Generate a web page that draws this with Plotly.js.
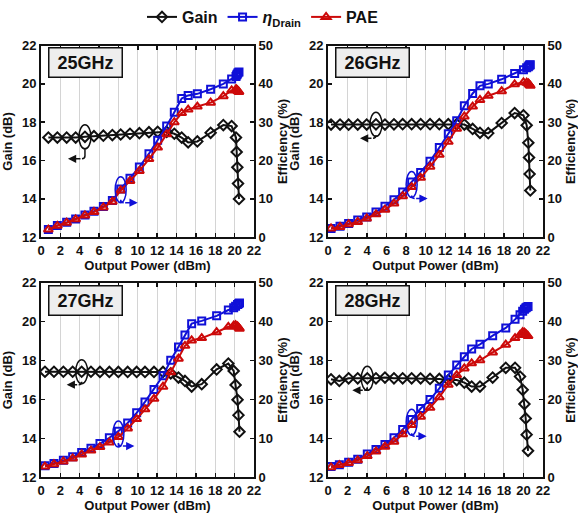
<!DOCTYPE html>
<html>
<head>
<meta charset="utf-8">
<script src="https://cdn.plot.ly/plotly-3.0.1.min.js"></script>
<style>html,body{margin:0;padding:0;background:#fff;}#chart{width:578px;height:518px;}</style>
</head>
<body>
<div id="chart"></div>
<script>
// ---- data ----
const freqLabels = ['25GHz', '26GHz', '27GHz', '28GHz'];

const pout25 = [0.76,1.69,2.65,3.58,4.54,5.47,6.44,7.37,8.23,9.19,10.16,11.15,12.05,12.98,13.77,14.53,15.2,16.15,17.52,18.83,19.69,20.14,20.21,20.28,20.35,20.45];
const gain25 = [17.2,17.2,17.2,17.2,17.24,17.27,17.3,17.33,17.36,17.4,17.43,17.48,17.5,17.5,17.4,17.2,16.95,17.0,17.45,17.85,17.8,17.2,16.45,15.65,14.8,14.0];
const eff25  = [2.0,3.1,3.9,4.8,5.8,6.8,8.0,9.6,12.6,15.4,18.3,21.8,25.3,29.0,32.6,36.2,37.0,37.4,38.6,40.0,41.3,41.9,42.3,42.6,42.9,43.1];
const pae25  = [2.0,3.0,3.8,4.7,5.7,6.6,7.8,9.3,12.2,14.7,17.3,20.4,23.4,26.9,30.0,32.4,33.3,34.1,35.1,36.8,38.3,38.6,38.5,38.3,38.1,37.9];

const pout26 = [0.31,1.23,2.11,3.04,3.96,4.91,5.83,6.75,7.64,8.56,9.48,10.44,11.39,12.31,13.17,13.95,14.8,15.55,16.4,17.77,19.1,20.0,20.33,20.5,20.57,20.63,20.7];
const gain26 = [17.88,17.88,17.87,17.88,17.88,17.89,17.88,17.89,17.9,17.9,17.9,17.9,17.9,17.9,17.9,17.88,17.65,17.45,17.43,17.96,18.48,18.36,17.84,16.93,16.16,15.3,14.44];
const eff26  = [2.3,2.9,3.6,4.5,5.3,6.6,8.1,9.8,11.8,14.4,16.9,19.8,23.4,27.0,30.4,34.3,37.5,39.5,40.0,41.2,42.7,43.7,44.2,44.5,44.7,44.9,45.0];
const pae26  = [2.3,2.7,3.4,4.0,4.9,6.0,7.2,8.8,10.7,13.1,15.5,18.4,21.5,24.9,28.3,31.5,34.1,35.8,36.9,38.1,39.9,40.4,40.3,40.1,39.9,39.7,39.5];

const pout27 = [0.41,1.34,2.31,3.27,4.2,5.16,6.09,7.06,7.99,8.95,9.88,10.74,11.67,12.6,13.4,14.2,14.87,15.56,16.6,18.14,19.35,19.9,20.1,20.3,20.4,20.5];
const gain27 = [17.43,17.43,17.43,17.43,17.43,17.43,17.42,17.42,17.42,17.42,17.42,17.42,17.42,17.42,17.35,17.13,16.96,16.67,16.79,17.55,17.85,17.47,16.75,15.99,15.2,14.35];
const eff27  = [3.0,3.6,4.4,5.3,6.4,7.5,8.7,10.2,11.9,14.0,16.6,19.4,22.6,26.1,30.1,33.5,36.6,39.5,40.2,41.5,43.0,43.6,44.0,44.4,44.6,44.8];
const pae27  = [2.8,3.4,4.1,4.9,5.9,6.9,7.8,9.0,10.4,12.6,15.0,17.5,20.2,23.3,27.0,30.5,33.8,35.2,35.8,37.3,38.7,39.0,39.1,38.8,38.5,38.2];

const pout28 = [0.31,1.16,2.11,3.04,4.02,4.91,5.83,6.75,7.64,8.56,9.48,10.44,11.39,12.31,13.17,13.95,14.7,15.55,16.85,18.19,19.14,19.65,19.92,20.1,20.23,20.33,20.47];
const gain28 = [17.04,16.96,17.09,17.09,17.09,17.09,17.13,17.09,17.09,17.09,17.09,17.06,17.06,17.0,17.0,16.87,16.67,16.67,17.13,17.63,17.63,17.18,16.5,15.77,15.03,14.2,13.37];
const eff28  = [2.8,3.3,3.9,4.7,6.0,7.2,8.5,10.2,12.3,14.9,17.7,20.0,22.9,26.3,28.9,31.0,33.0,34.2,36.4,38.4,40.6,41.8,42.7,43.2,43.5,43.7,43.9];
const pae28  = [2.6,3.2,3.7,4.4,5.5,6.7,7.9,9.2,11.1,13.5,15.6,17.9,20.6,23.8,26.3,28.0,29.3,30.1,32.1,34.1,35.8,36.6,37.3,37.2,36.9,36.6,36.3];

const seriesNames = ['Gain', '<i>η</i><sub>Drain</sub>', 'PAE'];
const xTickVals = [0,2,4,6,8,10,12,14,16,18,20,22];

// ---- styling / layout ----
const FONT = 'Liberation Sans Narrow, Arial Narrow, Liberation Sans, Arial, sans-serif';
const BLACK = '#111111', BLUE = '#1010d8', RED = '#cc0a0a';

const panels = [
  {x: pout25, g: gain25, e: eff25, p: pae25, label: freqLabels[0], xa: 'x',  ya: 'y',  yb: 'y2', gi: 4, ei: 8, gArrow: [-17, 22], eArrow: [17, 13]},
  {x: pout26, g: gain26, e: eff26, p: pae26, label: freqLabels[1], xa: 'x2', ya: 'y3', yb: 'y4', gi: 5, ei: 9, gArrow: [-16, 14], eArrow: [16, 14]},
  {x: pout27, g: gain27, e: eff27, p: pae27, label: freqLabels[2], xa: 'x3', ya: 'y5', yb: 'y6', gi: 4, ei: 8, gArrow: [-15, 13], eArrow: [16, 12]},
  {x: pout28, g: gain28, e: eff28, p: pae28, label: freqLabels[3], xa: 'x4', ya: 'y7', yb: 'y8', gi: 4, ei: 9, gArrow: [-15, 12], eArrow: [15, 14]}
];

const W = 578, H = 518;
const xDomL = [41 / W, 254 / W], xDomR = [328 / W, 543 / W];
const yDomT = [1 - 234 / H, 1 - 40 / H], yDomB = [1 - 477 / H, 1 - 280 / H];
const domains = [[xDomL, yDomT], [xDomR, yDomT], [xDomL, yDomB], [xDomR, yDomB]];

const traces = [];
panels.forEach((pn, k) => {
  const show = k === 0;
  traces.push({x: pn.x, y: pn.g, xaxis: pn.xa, yaxis: pn.ya, name: seriesNames[0], showlegend: show,
    mode: 'lines+markers', line: {color: BLACK, width: 2},
    marker: {symbol: 'diamond-open', size: 8, color: BLACK, line: {width: 2, color: BLACK}}});
  traces.push({x: pn.x, y: pn.e, xaxis: pn.xa, yaxis: pn.yb, name: seriesNames[1], showlegend: show,
    mode: 'lines+markers', line: {color: BLUE, width: 2},
    marker: {symbol: 'square-open', size: 7, color: BLUE, line: {width: 2, color: BLUE}}});
  traces.push({x: pn.x, y: pn.p, xaxis: pn.xa, yaxis: pn.yb, name: seriesNames[2], showlegend: show,
    mode: 'lines+markers', line: {color: RED, width: 2},
    marker: {symbol: 'triangle-up-open', size: 8, color: RED, line: {width: 2, color: RED}}});
});

const tickFont = {family: FONT, size: 13, color: BLACK, weight: 'bold'};
const titleFont = {family: FONT, size: 13, color: BLACK, weight: 'bold'};

const layout = {
  width: W, height: H,
  margin: {l: 0, r: 0, t: 0, b: 0},
  paper_bgcolor: '#ffffff', plot_bgcolor: '#ffffff',
  font: {family: FONT, color: BLACK},
  showlegend: true,
  legend: {orientation: 'h', x: 0.455, xanchor: 'center', y: 1.012, yanchor: 'top',
    font: {family: FONT, size: 16, color: BLACK, weight: 'bold'}, itemwidth: 30,
    tracegroupgap: 0, bgcolor: 'rgba(0,0,0,0)'},
  shapes: [], annotations: []
};

panels.forEach((pn, k) => {
  const xn = pn.xa === 'x' ? 'xaxis' : 'xaxis' + pn.xa.slice(1);
  const yan = pn.ya === 'y' ? 'yaxis' : 'yaxis' + pn.ya.slice(1);
  const ybn = 'yaxis' + pn.yb.slice(1);
  const [xd, yd] = domains[k];
  layout[xn] = {domain: xd, anchor: pn.ya, range: [0, 22], tickvals: xTickVals,
    showgrid: true, gridcolor: '#d4d4d4', gridwidth: 1, zeroline: false,
    showline: true, linecolor: BLACK, linewidth: 2, mirror: 'ticks',
    ticks: 'inside', ticklen: 4, tickwidth: 1.5, tickcolor: BLACK, tickfont: tickFont,
    title: {text: 'Output Power (dBm)', font: titleFont, standoff: 4}};
  layout[yan] = {domain: yd, anchor: pn.xa, range: [12, 22], dtick: 2, tick0: 12,
    showgrid: false, zeroline: false, showline: true, linecolor: BLACK, linewidth: 2,
    ticks: 'inside', ticklen: 4, tickwidth: 1.5, tickcolor: BLACK, tickfont: tickFont,
    title: {text: 'Gain (dB)', font: titleFont, standoff: 6}};
  layout[ybn] = {domain: yd, anchor: pn.xa, overlaying: pn.ya, side: 'right', range: [0, 50], dtick: 10, tick0: 0,
    showgrid: false, zeroline: false, showline: true, linecolor: BLACK, linewidth: 2,
    ticks: 'inside', ticklen: 4, tickwidth: 1.5, tickcolor: BLACK, tickfont: tickFont,
    title: {text: 'Efficiency (%)', font: titleFont, standoff: 6}};

  // frequency label box
  layout.annotations.push({xref: pn.xa + ' domain', yref: pn.ya + ' domain', x: 0.033, y: 0.99,
    xanchor: 'left', yanchor: 'top', showarrow: false, text: pn.label,
    font: {family: FONT, size: 18, color: BLACK, weight: 'bold'},
    bgcolor: '#eeeeee', bordercolor: BLACK, borderwidth: 1.5, borderpad: 1, width: 70, height: 26});

  // gain ellipse + left arrow
  const gx = pn.x[pn.gi], gy = pn.g[pn.gi];
  layout.shapes.push({type: 'circle', xref: pn.xa, yref: pn.ya, xsizemode: 'pixel', ysizemode: 'pixel',
    xanchor: gx, yanchor: gy, x0: -6, x1: 6, y0: -12, y1: 12, line: {color: BLACK, width: 1.5}});
  layout.shapes.push({type: 'path', xref: pn.xa, yref: pn.ya, xsizemode: 'pixel', ysizemode: 'pixel',
    xanchor: gx, yanchor: gy, path: `M0,-12 L0,${-pn.gArrow[1] + 3} Q0,${-pn.gArrow[1]} -3,${-pn.gArrow[1]}`,
    line: {color: BLACK, width: 1.5}});
  layout.annotations.push({xref: pn.xa, yref: pn.ya, x: gx, y: gy, xshift: pn.gArrow[0], yshift: -pn.gArrow[1],
    ax: -pn.gArrow[0] - 3, ay: 0, text: '', showarrow: true, arrowhead: 2, arrowsize: 1.1, arrowwidth: 1.5, arrowcolor: BLACK});

  // efficiency ellipse + right arrow
  const ex = pn.x[pn.ei], ey = (pn.e[pn.ei] + pn.p[pn.ei]) / 2;
  layout.shapes.push({type: 'circle', xref: pn.xa, yref: pn.yb, xsizemode: 'pixel', ysizemode: 'pixel',
    xanchor: ex, yanchor: ey, x0: -5.5, x1: 5.5, y0: -13, y1: 13, line: {color: BLUE, width: 1.5}});
  layout.shapes.push({type: 'path', xref: pn.xa, yref: pn.yb, xsizemode: 'pixel', ysizemode: 'pixel',
    xanchor: ex, yanchor: ey, path: `M0,-13 L0,${-pn.eArrow[1] + 3} Q0,${-pn.eArrow[1]} 3,${-pn.eArrow[1]}`,
    line: {color: BLUE, width: 1.5}});
  layout.annotations.push({xref: pn.xa, yref: pn.yb, x: ex, y: ey, xshift: pn.eArrow[0], yshift: -pn.eArrow[1],
    ax: -pn.eArrow[0] + 3, ay: 0, text: '', showarrow: true, arrowhead: 2, arrowsize: 1.1, arrowwidth: 1.5, arrowcolor: BLUE});
});

Plotly.newPlot('chart', traces, layout, {displayModeBar: false, staticPlot: true});
</script>
</body>
</html>
